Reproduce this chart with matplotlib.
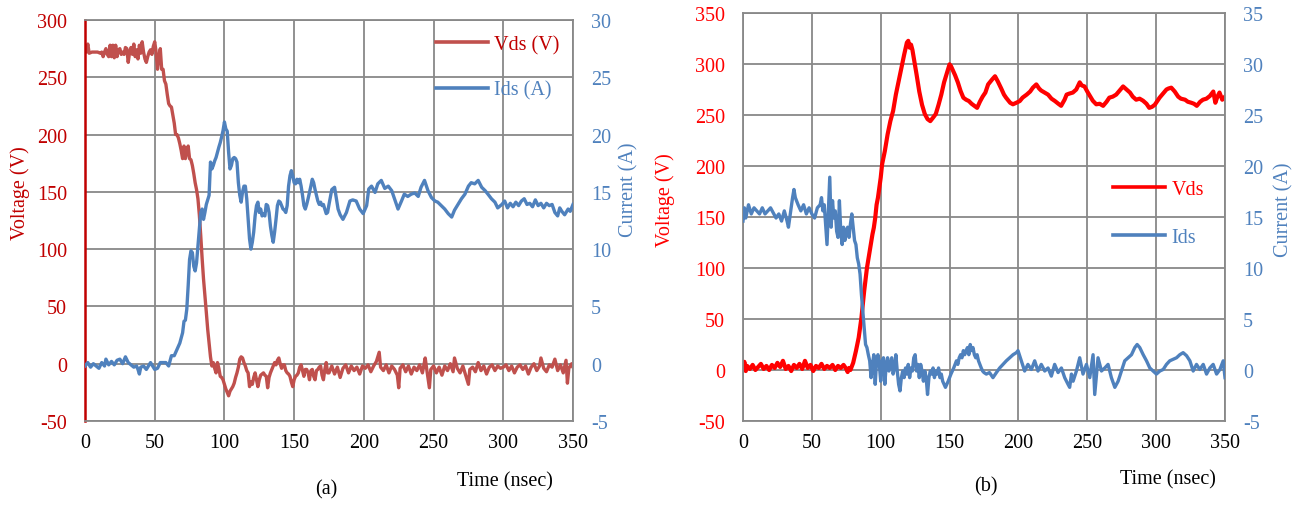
import matplotlib
matplotlib.use("Agg")
import matplotlib.pyplot as plt

plt.rcParams['font.family'] = ['Liberation Serif', 'DejaVu Serif']
plt.rcParams['axes.unicode_minus'] = False

# ---- (a) ----
lv_t = [0, 1, 2, 3, 5, 7, 9, 11, 12, 13, 14, 15, 16, 17, 18, 19, 20, 21, 22, 23, 24, 25, 26, 27, 28, 29, 30,
        31, 32, 33, 34, 35, 36, 37, 38, 39, 40, 41, 42, 43, 44, 45, 46, 47, 48, 49, 50, 51, 52, 53, 54, 55, 56,
        57, 58, 59, 60, 61, 62, 63, 64, 65, 66, 67, 68, 69, 70, 71, 72, 73, 74, 75, 76, 77, 78, 79, 80, 81, 82,
        83, 84, 85, 86, 87, 88, 89, 90, 91, 92, 93, 94, 95, 96, 97, 98, 99, 100, 101, 102, 103, 104, 105, 106,
        107, 108, 109, 110, 111, 112, 113, 114, 115, 116, 117, 118, 119, 120, 121, 122, 123, 124, 125, 126, 127,
        128, 129, 130, 131, 132, 133, 134, 135, 136, 137, 138, 139, 140, 141, 142, 143, 144, 145, 146, 147, 148,
        149, 150, 151, 152, 153, 154, 155, 156, 157, 158, 159, 160, 161, 162, 163, 164, 165, 166, 167, 168, 169,
        170, 171, 172, 173, 174, 175, 177, 179, 181, 183, 185, 187, 189, 191, 193, 195, 197, 199, 201, 203, 205,
        207, 209, 211, 212, 214, 216, 218, 220, 222, 224, 225, 226, 228, 230, 232, 234, 236, 238, 240, 242, 244,
        245, 247, 248, 250, 252, 254, 256, 258, 260, 262, 264, 265, 267, 269, 271, 273, 275, 276, 278, 280, 282,
        284, 286, 288, 290, 292, 294, 296, 298, 300, 302, 304, 306, 308, 310, 312, 314, 316, 318, 320, 322, 324,
        326, 327, 329, 331, 333, 335, 337, 339, 341, 343, 345, 346, 347, 349, 350]
lv_v = [272, 272, 279, 271, 272, 272, 272, 271, 272, 268, 272, 275, 270, 268, 278, 268, 278, 267, 278, 268, 274,
        275, 270, 272, 270, 276, 275, 263, 272, 276, 270, 279, 268, 274, 266, 278, 271, 281, 272, 266, 263, 268,
        272, 274, 270, 277, 281, 272, 257, 268, 275, 257, 257, 247, 244, 235, 227, 225, 224, 217, 210, 200, 200,
        197, 192, 186, 179, 190, 179, 185, 190, 179, 178, 173, 166, 158, 152, 144, 130, 112, 92, 74, 60, 45, 30,
        18, 6, -2, 1, -4, -8, 1, -4, -11, -12, -14, -18, -22, -25, -28, -24, -22, -20, -17, -12, -8, -3, 4, 6, 5,
        1, -2, -6, -8, -20, -16, -18, -12, -8, -14, -20, -14, -10, -9, -8, -10, -11, -21, -12, -8, -5, -2, 1, -1,
        3, 5, 0, -4, -1, -1, -6, -8, -9, -11, -16, -20, -14, -11, -10, -8, -3, -1, -6, -11, -5, -5, -8, -14, -6,
        -5, -11, -14, -6, -5, -3, -2, -10, -14, -5, 1, -8, -8, -2, -9, -3, -12, -4, -1, -8, -2, -6, -3, -9, -2,
        -4, -1, -7, -2, 2, 10, -3, -6, -1, -8, -2, -5, -10, -21, -4, -1, -7, -2, -9, -3, -6, -1, -8, 5, -4, -21,
        -5, -2, -8, -3, -10, -2, -6, 0, -7, 5, -4, -8, -2, -10, -18, -5, -3, -7, 1, -6, -2, -9, -3, -1, -6, -2,
        -4, -3, -1, -6, -2, -8, -3, -1, -5, -2, -9, -3, 0, -6, -2, 5, -4, -7, -1, -3, 4, -6, -1, -8, 3, -17, -4,
        0, -3]

li_t = [0, 2, 4, 6, 8, 10, 12, 14, 15, 17, 19, 21, 23, 25, 27, 29, 31, 33, 35, 37, 38, 39, 40, 42, 44, 46, 47,
        49, 50, 52, 54, 56, 58, 60, 62, 64, 66, 68, 70, 71, 72, 73, 74, 75, 76, 77, 78, 79, 80, 81, 82, 83, 84,
        85, 86, 87, 88, 89, 90, 91, 92, 93, 94, 95, 96, 97, 98, 99, 100, 101, 102, 103, 104, 105, 106, 107, 108,
        109, 110, 111, 112, 113, 114, 115, 116, 117, 118, 119, 120, 121, 122, 123, 124, 125, 126, 127, 128, 129,
        130, 131, 132, 133, 134, 135, 136, 137, 138, 139, 140, 141, 142, 143, 144, 145, 146, 147, 148, 149, 150,
        151, 152, 153, 154, 155, 156, 157, 158, 159, 160, 161, 162, 163, 164, 165, 166, 167, 168, 169, 170, 171,
        172, 173, 174, 175, 177, 179, 181.5, 183, 185, 187.5, 190, 192, 194.5, 197, 199.5, 202, 203.5, 205.5,
        208, 210, 212.5, 215, 217.5, 220, 222, 224.5, 227, 229, 231.5, 234, 236.5, 239, 241, 243.5, 246, 248.5,
        251, 253, 255.5, 258, 260.5, 263, 265, 267.5, 270, 272.5, 275, 277, 279.5, 282, 284.5, 287, 289, 291.5,
        294, 296, 299, 301, 303, 305, 307, 309, 311, 313, 315, 317, 319, 321, 323, 325, 327, 329, 331, 333, 335,
        337, 339, 340.5, 342, 344, 346.5, 348, 350]
li_v = [-0.2, 0.1, -0.3, 0, -0.2, -0.4, 0.1, -0.2, 0.4, -0.1, 0.2, -0.1, 0.3, 0.4, 0, 0.6, 0.1, -0.1, -0.3,
        -0.2, -0.5, -0.9, -0.3, -0.2, -0.5, -0.1, 0.1, -0.3, -0.5, -0.4, 0.1, 0.1, 0.1, -0.2, 0.7, 0.7, 1.25,
        1.8, 2.7, 3.7, 3.8, 4.75, 6.8, 9.1, 9.85, 9.7, 8.5, 8.1, 8.8, 10.3, 11.75, 13.2, 13.5, 12.6, 13.2, 13.9,
        14.3, 14.7, 17.6, 17.0, 17.3, 17.7, 18.0, 18.45, 18.9, 19.3, 19.8, 20.35, 21.1, 20.5, 20.3, 18.45, 17.0,
        17.3, 17.9, 18.0, 17.9, 17.6, 15.8, 14.7, 14.1, 15.0, 15.5, 15.5, 14.4, 12.6, 10.9, 10.0, 10.6, 11.5,
        12.9, 13.8, 14.1, 13.2, 13.5, 12.9, 13.1, 12.9, 13.9, 13.8, 13.2, 12.0, 11.2, 10.6, 11.5, 12.6, 13.8,
        14.2, 14.1, 13.8, 13.5, 13.4, 13.2, 13.8, 15.5, 16.4, 16.85, 16.4, 15.8, 15.7, 16.1, 15.8, 16.1, 15.5,
        14.7, 13.8, 13.5, 13.9, 14.4, 14.95, 15.5, 16.1, 15.8, 15.2, 14.7, 14.2, 13.9, 14.1, 13.8, 13.9, 13.5,
        13.1, 13.2, 13.9, 15.2, 15.4, 13.5, 13.0, 12.6, 13.2, 14.2, 14.3, 14.2, 13.5, 13.1, 13.8, 15.25, 15.5,
        14.95, 15.7, 16.0, 15.3, 15.5, 15.1, 14.4, 13.5, 14.2, 14.8, 14.6, 14.8, 14.9, 14.6, 15.4, 16.0, 15.1,
        14.5, 14.2, 14.1, 13.8, 13.5, 13.1, 12.8, 13.4, 13.9, 14.4, 14.8, 15.5, 15.8, 15.7, 16.0, 15.4, 15.1,
        14.8, 14.4, 14.1, 13.6, 13.9, 14.2, 13.6, 14.0, 13.7, 14.1, 13.8, 14.2, 14.4, 13.9, 14.0, 13.7, 14.3,
        13.8, 14.0, 13.6, 14.0, 13.8, 13.9, 13.2, 12.9, 13.6, 13.3, 13.0, 13.5, 13.3, 13.9]

# ---- (b) ----
rv_t = [0, 1, 2, 3, 5, 7, 9, 11, 13, 15, 17, 19, 21, 23, 25, 27, 29, 31, 33, 35, 37, 39, 41, 43, 45, 47, 49, 51,
        53, 55, 57, 59, 61, 63, 65, 67, 69, 71, 73, 75, 76, 77, 78, 80, 82, 84, 86, 88, 90, 92, 94, 95, 96, 97,
        98, 99, 100, 101, 103, 105, 107, 109, 111, 113, 115, 117, 119, 120, 121, 122, 123, 124, 126, 128, 130,
        132, 134, 136, 138, 140, 142, 144, 146, 148, 150, 151, 152, 154, 156, 158, 160, 162, 164, 166, 168, 170,
        172, 174, 176, 178, 181, 183, 185, 187.5, 189.5, 191, 194, 196, 198.5, 201, 203, 206, 208.5, 210.5, 213,
        215, 216.5, 219, 221.5, 224, 226.5, 229, 231, 233.5, 235, 237, 239.5, 242, 244.5, 246, 248, 250, 252, 254,
        256.5, 259, 261.5, 264, 266, 268.5, 271, 273.5, 276, 278.5, 281, 283, 285.5, 288, 290.5, 293, 295, 297,
        299, 301, 302.5, 305, 307.5, 309, 311, 313.5, 316, 318, 321, 323, 325.5, 327.5, 329.5, 332, 334, 336.5,
        339, 341.5, 343, 344.5, 346, 348, 350]
rv_v = [2, 8, -1, 4, 1, 5, 0, 3, 6, 1, 4, 0, 5, 2, 7, 3, 9, 1, 4, -1, 5, 2, 6, 1, 9, 2, 5, -1, 4, 2, 6, 1, 4, 2,
        5, 0, 4, 2, 5, 1, -2, 2, 0, 7, 18.6, 31.7, 51.3, 77.5, 100, 116.7, 133, 139.5, 149, 162, 169, 179, 188.6,
        201.6, 214.7, 231, 244, 254, 270, 283, 296, 309, 321, 322.7, 316, 319, 314, 306, 290, 273, 260, 251, 246,
        244, 247.4, 251, 260, 270, 282, 291, 299.7, 298, 295, 289, 282, 273.5, 267, 265, 263.7, 261, 259, 257,
        263, 268, 272, 280, 285, 288, 283, 276, 270, 267, 262, 260.5, 262, 263.7, 267, 270, 273, 276.8, 280, 276,
        274, 272, 270, 266, 263.7, 261, 259, 265, 270, 271, 272, 275, 282, 279, 278, 273, 268.6, 264, 260.5, 261,
        259, 263, 267, 268, 270, 274, 278, 275, 272, 268, 265, 266, 264, 261, 257, 258, 260, 264, 267, 271, 275,
        276, 276.8, 273, 268, 266, 265, 263, 262, 261, 259, 263, 265, 266, 268.6, 273, 262, 268, 272, 265, 268]

ri_t = [0, 1, 2, 4, 6, 8, 10, 12, 14, 16, 18, 20, 22, 24, 26, 28, 30, 32, 33, 35, 36, 37, 38, 40, 42, 44, 46, 48,
        50, 52, 54, 56, 57, 58, 59, 60, 61, 62, 63, 64, 65, 66, 67, 68, 69, 70, 71, 72, 73, 74, 75, 76, 77, 78,
        79, 80, 81, 82, 83, 84, 85, 86, 87, 88, 89, 90, 91, 92, 93, 94, 95, 96, 97, 98, 99, 100, 101, 102, 103,
        104, 105, 106, 107, 108, 109, 110, 111, 112, 113, 114, 115, 116, 117, 118, 119, 120, 121, 122, 123, 124,
        125, 126, 127, 128, 129, 130, 131, 132, 133, 134, 135, 136, 137, 138, 139, 140, 141, 142, 143, 144, 145,
        146, 147, 148, 149, 150, 151, 152, 153, 154, 155, 156, 157, 158, 159, 160, 161, 162, 163, 164, 165, 166,
        167, 168, 169, 170, 171, 172, 173, 174, 175, 176.7, 179, 181.5, 184, 186.4, 188.8, 191.2, 193.7, 196.1,
        198.5, 199.7, 202.1, 204.5, 206.9, 209.4, 211.8, 214.2, 216.6, 219.1, 221.5, 223.9, 226.3, 228.8, 231.2,
        233.6, 236, 237.2, 238.5, 239.7, 242.1, 244.5, 246.9, 249.4, 251.8, 254.2, 255.4, 257.8, 260.3, 262.7,
        265.1, 267.5, 270, 272.4, 274.8, 277.2, 279.7, 282.1, 284.5, 286.2, 288.1, 290.6, 293, 295.4, 297.8,
        300.2, 302.7, 305.1, 307.5, 309.9, 312.4, 314.8, 317.2, 319.6, 322.1, 324.5, 326.9, 329.3, 331.7, 334.2,
        336.6, 339, 341.4, 343.9, 346.3, 348.7, 350]
ri_v = [14.6, 15.9, 14.9, 16.2, 15.3, 15.9, 15.6, 15.3, 15.9, 15.3, 15.6, 15.9, 15.4, 14.9, 15.3, 14.6, 15.6,
        14.6, 14.0, 15.9, 16.9, 17.7, 16.9, 16.2, 15.6, 16.2, 15.3, 15.9, 15.3, 14.9, 15.9, 16.2, 16.9, 15.6,
        16.2, 14.3, 12.3, 15.6, 18.9, 14.0, 16.6, 14.9, 15.6, 13.6, 13.0, 16.6, 13.6, 12.3, 14.0, 12.7, 13.6,
        14.0, 13.0, 14.3, 15.3, 14.0, 12.7, 12.3, 11.0, 10.4, 9.4, 7.4, 5.8, 4.15, 2.5, 2.2, 1.5, 0.9, -0.75,
        0.55, 1.5, -1.4, 0.9, 1.5, 0.55, -1.1, 0.9, 1.2, -1.4, 0.55, 1.2, -0.1, 0.55, 1.2, -0.4, 0.2, 1.5, -0.1,
        -1.4, -2.05, -0.75, -0.1, -0.75, 0.2, -0.4, 0.55, -0.75, 0.2, -0.1, 1.2, 1.5, -0.1, 0.55, -0.75, 0.55,
        -0.1, -1.1, -0.1, -0.75, -2.4, -0.75, -0.1, -0.4, 0.2, -0.75, -0.1, -0.4, 0.2, -0.75, -0.4, -1.1, -1.4,
        -1.7, -1.4, -1.1, -0.75, -0.4, -0.1, 0.2, 0.55, 0.9, 0.55, 1.2, 1.5, 1.2, 1.9, 1.5, 1.9, 2.2, 1.5, 2.5,
        1.9, 2.2, 1.5, 1.2, 1.5, 0.9, 0.55, 0.2, -0.1, -0.25, -0.4, -0.25, -0.75, -0.25, 0.2, 0.55, 0.9, 1.2,
        1.5, 1.7, 1.9, 0.9, -0.1, 0.55, 0.05, 0.9, -0.1, 0.55, -0.1, 0.2, -0.6, 0.55, -0.25, 0.2, -0.75, -1.4,
        -1.7, -0.4, -1.1, -0.1, 1.2, -0.4, 0.55, -0.75, 1.5, -2.4, 1.2, -0.1, 0.2, 0.55, -0.75, -1.7, -1.1,
        -0.1, 0.9, 1.2, 1.5, 2.2, 2.5, 2.2, 1.5, 0.9, 0.2, -0.1, -0.4, -0.1, 0.05, 0.55, 0.9, 1.05, 1.2, 1.5,
        1.7, 1.4, 0.9, -0.1, 0.55, 0.05, 0.55, -0.4, 0.2, 0.55, -0.4, 0.05, 0.9, -0.75]

x_ticks = [0, 50, 100, 150, 200, 250, 300, 350]

grid_c = '#888888'
blue = '#4F81BD'
fs = 14.5

fig = plt.figure(figsize=(13.01, 5.06), dpi=100)
W, H = 1301, 506


def panel(box, t1, v1, t2, v2, vcol, vlab_col, vlim, ilim, names, leg_xy, leg_sp, red_spine, vlw):
    ax = fig.add_axes(box)
    ax.plot(t1, v1, color=vcol, lw=vlw, label=names[0])
    ax.set_xlim(0, 350)
    ax.set_ylim(*vlim)
    ax.set_xticks(x_ticks)
    ax.set_yticks(range(vlim[0], vlim[1] + 1, 50))
    ax.grid(True, color=grid_c, lw=1.3)
    ax.set_axisbelow(True)
    for s in ax.spines.values():
        s.set_color(grid_c)
        s.set_linewidth(1.3)
    if red_spine:
        ax.spines['left'].set_color('#C00000')
        ax.spines['left'].set_linewidth(1.8)
    ax.tick_params(axis='both', length=0, labelsize=fs)
    ax.tick_params(axis='y', colors=vlab_col, pad=13)
    ax.tick_params(axis='x', colors='black', pad=9)

    ax2 = ax.twinx()
    ax2.plot(t2, v2, color=blue, lw=2.4, label=names[1])
    ax2.set_ylim(*ilim)
    ax2.set_yticks(range(ilim[0], ilim[1] + 1, 5))
    ax2.tick_params(axis='y', length=0, labelsize=fs, colors=blue, pad=13)
    for s in ax2.spines.values():
        s.set_visible(False)

    h = ax.get_lines() + ax2.get_lines()
    leg = ax2.legend(h, [l.get_label() for l in h], loc='upper left',
                     bbox_to_anchor=(leg_xy[0] / W, 1 - leg_xy[1] / H),
                     bbox_transform=fig.transFigure, frameon=False, fontsize=fs,
                     handlelength=2.6, handletextpad=0.3, labelspacing=leg_sp,
                     borderpad=0, borderaxespad=0)
    for ln in leg.get_lines():
        ln.set_linewidth(2.6)
    for txt, ln in zip(leg.get_texts(), h):
        txt.set_color(vlab_col if ln in ax.get_lines() else blue)
    return ax, ax2


panel([85 / W, 1 - 422 / H, 488 / W, 401 / H], lv_t, lv_v, li_t, li_v,
      '#C0504D', '#C00000', (-50, 300), (-5, 30), ['Vds (V)', 'Ids (A)'], (436, 36), 1.3, True, 2.4)
panel([743 / W, 1 - 422 / H, 482 / W, 408 / H], rv_t, rv_v, ri_t, ri_v,
      '#FF0000', '#FF0000', (-50, 350), (-5, 35), ['Vds', 'Ids'], (1113, 181), 1.45, False, 3.0)

fig.text(20 / W, 1 - 193 / H, 'Voltage (V)', rotation=90, color='#C00000', fontsize=fs, ha='center', va='center')
fig.text(629 / W, 1 - 190 / H, 'Current (A)', rotation=90, color=blue, fontsize=fs, ha='center', va='center')
fig.text(665 / W, 1 - 200 / H, 'Voltage (V)', rotation=90, color='#FF0000', fontsize=fs, ha='center', va='center')
fig.text(1284 / W, 1 - 210 / H, 'Current (A)', rotation=90, color=blue, fontsize=fs, ha='center', va='center')
fig.text(505 / W, 1 - 482 / H, 'Time (nsec)', fontsize=fs, ha='center', va='center')
fig.text(1168 / W, 1 - 480 / H, 'Time (nsec)', fontsize=fs, ha='center', va='center')
fig.text(326 / W, 1 - 490 / H, '(a)', fontsize=fs, ha='center', va='center')
fig.text(986 / W, 1 - 487 / H, '(b)', fontsize=fs, ha='center', va='center')

fig.savefig('out.png', dpi=100)
